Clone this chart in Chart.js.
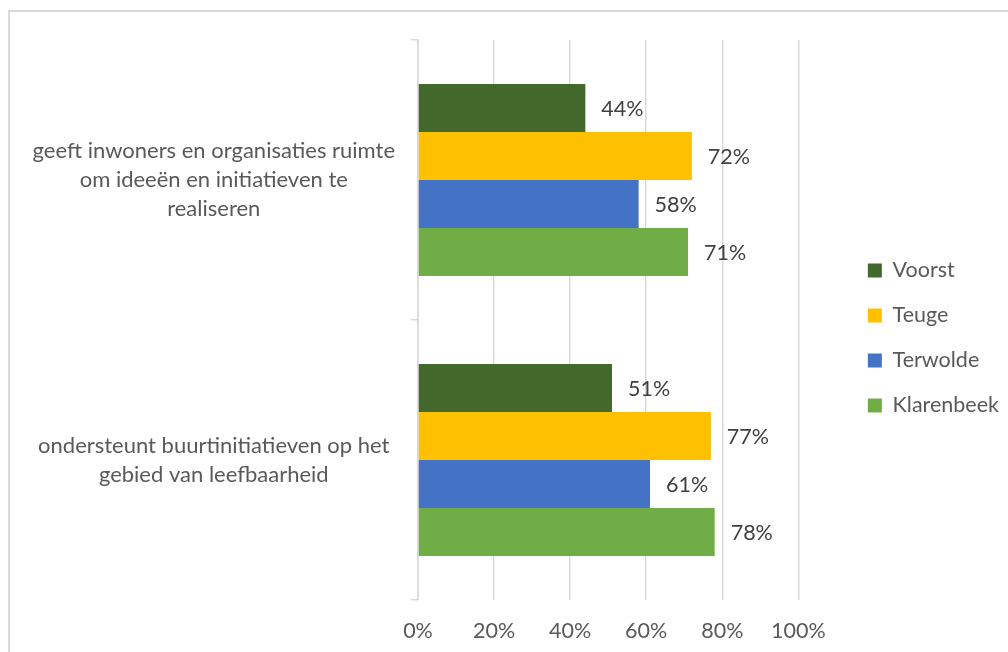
<!DOCTYPE html>
<html>
<head>
<meta charset="utf-8">
<script src="https://cdn.jsdelivr.net/npm/chart.js@4/dist/chart.umd.min.js"></script>
<style>
  html, body { margin: 0; padding: 0; background: #fff; overflow: hidden; }
  #frame { position: absolute; left: 8px; top: 10px; width: 1100px; height: 700px; border: 2px solid #d9d9d9; }
  #wrap { position: absolute; left: 0; top: 0; width: 1008px; height: 652px; }
</style>
</head>
<body>
<div id="frame"></div>
<div id="wrap"><canvas id="myChart"></canvas></div>
<script>
var categories = [
  ['geeft inwoners en organisaties ruimte', 'om ideeën en initiatieven te', 'realiseren'],
  ['ondersteunt buurtinitiatieven op het', 'gebied van leefbaarheid']
];
var seriesNames = ['Voorst', 'Teuge', 'Terwolde', 'Klarenbeek'];
var voorst = [44, 51];
var teuge = [72, 77];
var terwolde = [58, 61];
var klarenbeek = [71, 78];
var colors = ['#43682b', '#ffc000', '#4472c4', '#70ad47'];
var xTicks = [0, 20, 40, 60, 80, 100];

var font = 'Lato, "Liberation Sans", sans-serif';
var fsize = 21.5;
var values = [voorst, teuge, terwolde, klarenbeek];

const data = {
  labels: categories,
  datasets: seriesNames.map((name, i) => ({
    label: name,
    data: values[i],
    backgroundColor: colors[i],
    borderWidth: 0,
    categoryPercentage: 0.685,
    barPercentage: 1
  }))
};

// value labels next to each bar
const valueLabels = {
  id: 'valueLabels',
  afterDatasetsDraw(chart) {
    const ctx = chart.ctx;
    ctx.save();
    ctx.font = fsize + 'px ' + font;
    ctx.fillStyle = '#404040';
    ctx.textAlign = 'left';
    ctx.textBaseline = 'middle';
    chart.data.datasets.forEach((ds, i) => {
      chart.getDatasetMeta(i).data.forEach((bar, j) => {
        ctx.fillText(ds.data[j] + '%', bar.x + 16, bar.y + 1);
      });
    });
    ctx.restore();
  }
};

// push legend a bit away from the plot, like Excel does
const legendShift = {
  id: 'legendShift',
  afterLayout(chart) {
    const lg = chart.legend;
    if (!lg) return;
    lg.left += 46; lg.right += 46;
    lg.top -= 8; lg.bottom -= 8;
  }
};

const config = {
  type: 'bar',
  data: data,
  options: {
    indexAxis: 'y',
    responsive: true,
    maintainAspectRatio: false,
    animation: false,
    layout: { padding: { top: 40, left: 0, right: 45, bottom: 0 } },
    scales: {
      x: {
        min: 0,
        max: 100,
        afterBuildTicks: s => { s.ticks = xTicks.map(v => ({ value: v })); },
        afterFit: s => { s.height = 52; },
        border: { display: false },
        grid: { color: '#d9d9d9', lineWidth: 1.5, drawTicks: false },
        ticks: {
          padding: 18,
          maxRotation: 0,
          color: '#595959',
          font: { family: font, size: fsize },
          callback: v => v + '%'
        }
      },
      y: {
        afterFit: s => { s.width = 418; s.paddingTop = 0; s.paddingBottom = 0; },
        border: { display: true, color: '#d9d9d9', width: 1.5 },
        grid: { offset: true, drawOnChartArea: false, drawTicks: true, tickLength: 7, color: '#d9d9d9', lineWidth: 1.5 },
        ticks: {
          crossAlign: 'center',
          padding: 16,
          color: '#595959',
          font: { family: font, size: 22, lineHeight: 1.32 }
        }
      }
    },
    plugins: {
      tooltip: { enabled: false },
      legend: {
        position: 'right',
        align: 'center',
        labels: {
          boxWidth: 14,
          boxHeight: 14,
          padding: 23.5,
          color: '#595959',
          font: { family: font, size: fsize }
        }
      }
    }
  },
  plugins: [valueLabels, legendShift]
};

const myChart = new Chart(document.getElementById('myChart'), config);
</script>
</body>
</html>
